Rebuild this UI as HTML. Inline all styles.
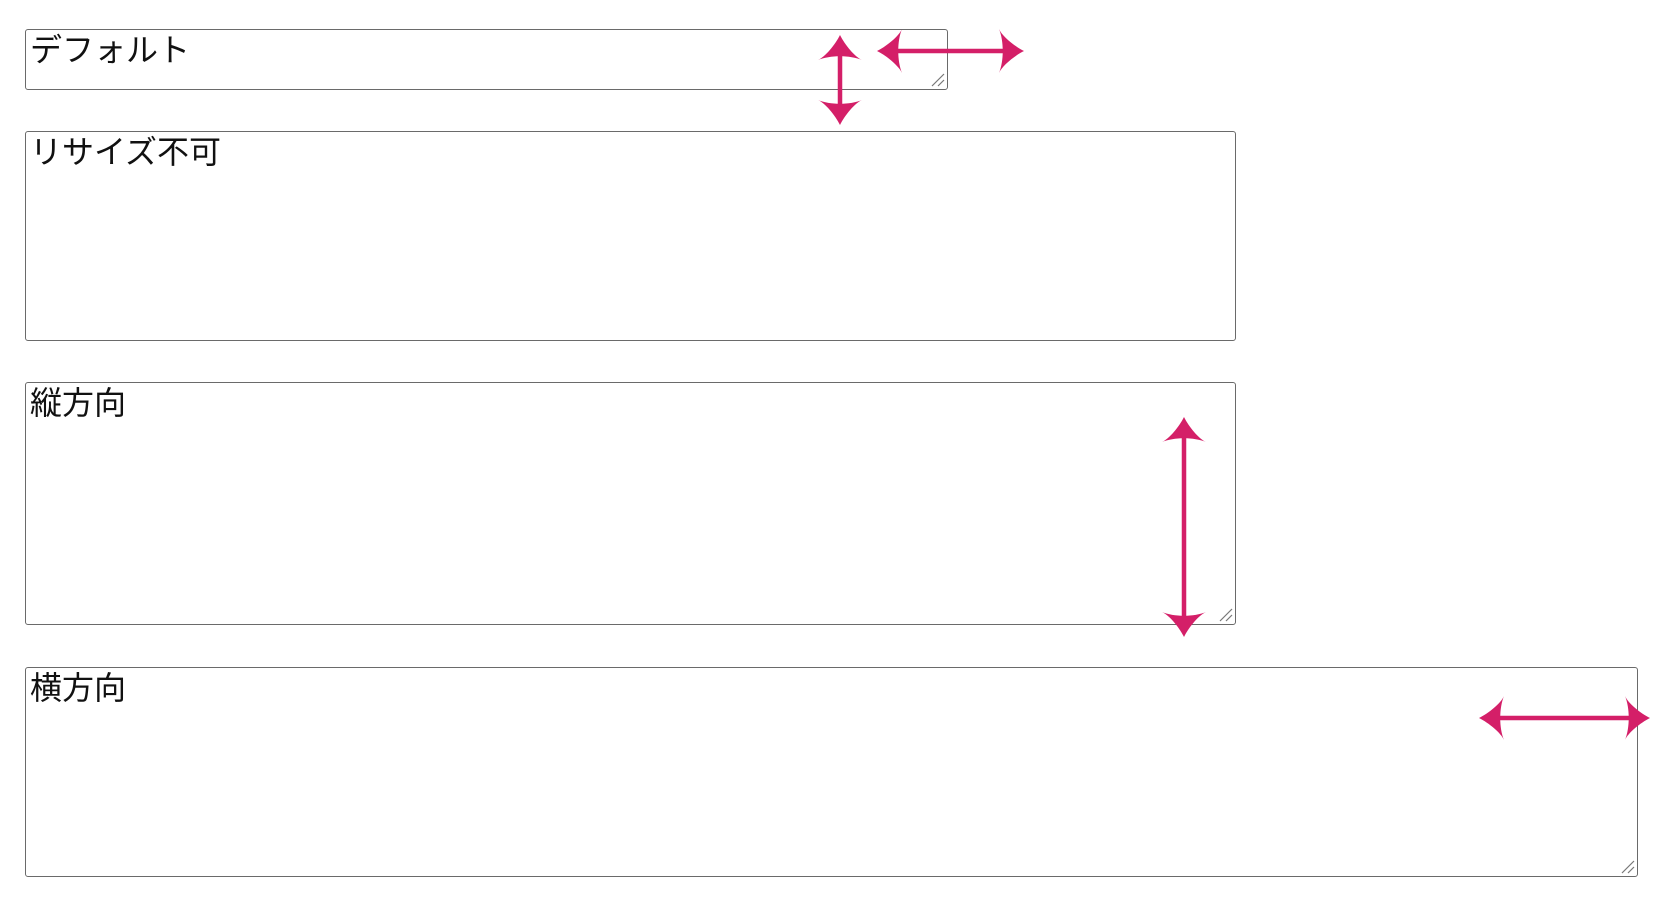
<!DOCTYPE html>
<html><head><meta charset="utf-8"><style>
body{margin:0;width:1678px;height:902px;background:#fff;position:relative;overflow:hidden}
.b{position:absolute;box-sizing:border-box;border:1.8px solid #6a6a6a;border-radius:3px;font:32px "Liberation Sans","Noto Sans CJK JP",sans-serif;color:#111;padding:0 0 0 4px;line-height:40px}
svg{position:absolute;left:0;top:0}
</style></head><body>
<div class="b" style="left:25px;top:29px;width:923px;height:61px">デフォルト</div>
<div class="b" style="left:25px;top:131px;width:1211px;height:210px">リサイズ不可</div>
<div class="b" style="left:25px;top:382px;width:1211px;height:243px">縦方向</div>
<div class="b" style="left:25px;top:667px;width:1613px;height:210px">横方向</div>
<svg width="1678" height="902">
<defs>
<path id="h" d="M0,0 C10,-5 22,-15 25,-22 C20,-10 20,10 25,22 C22,15 10,5 0,0Z" fill="#d41f68"/>
</defs>
<g stroke="#777" stroke-width="1.2">
<line x1="932" y1="86" x2="944" y2="74"/><line x1="938" y1="86" x2="944" y2="80"/>
<line x1="1220" y1="621" x2="1232" y2="609"/><line x1="1226" y1="621" x2="1232" y2="615"/>
<line x1="1622" y1="873" x2="1634" y2="861"/><line x1="1628" y1="873" x2="1634" y2="867"/>
</g>
<g stroke="#d41f68" stroke-width="4.5">
<line x1="840" y1="50" x2="840" y2="110"/>
<line x1="892" y1="51" x2="1010" y2="51"/>
<line x1="1184" y1="432" x2="1184" y2="622"/>
<line x1="1494" y1="718" x2="1636" y2="718"/>
</g>
<use href="#h" transform="translate(840,35) rotate(90)"/>
<use href="#h" transform="translate(840,125) rotate(-90)"/>
<use href="#h" transform="translate(877,51)"/>
<use href="#h" transform="translate(1024,51) rotate(180)"/>
<use href="#h" transform="translate(1184,417) rotate(90)"/>
<use href="#h" transform="translate(1184,637) rotate(-90)"/>
<use href="#h" transform="translate(1479,718)"/>
<use href="#h" transform="translate(1650,718) rotate(180)"/>
</svg>
</body></html>
